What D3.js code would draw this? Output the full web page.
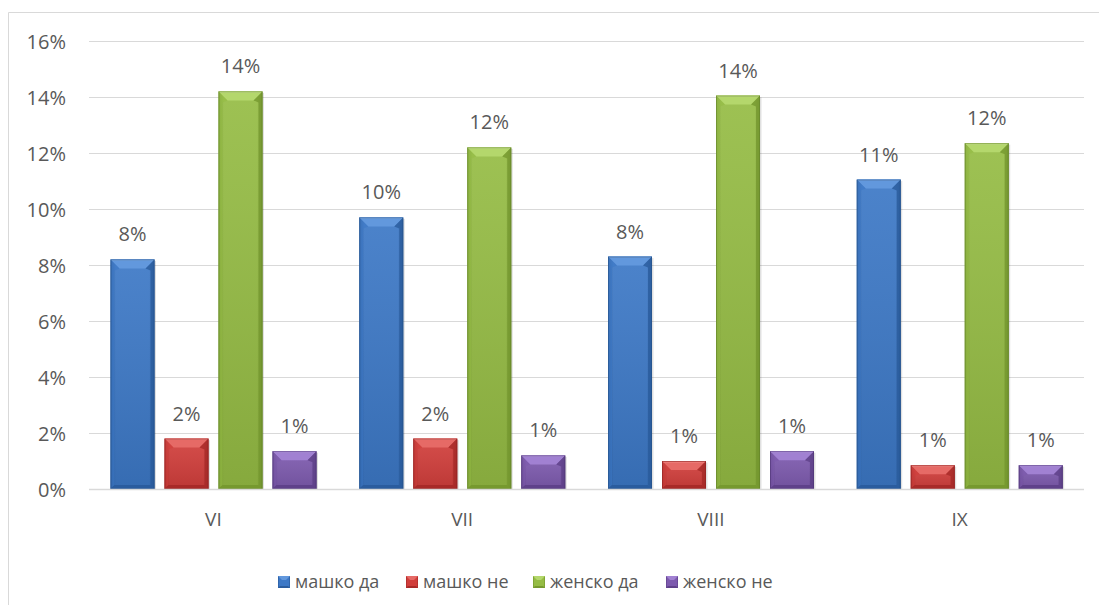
<!DOCTYPE html>
<html>
<head>
<meta charset="utf-8">
<script src="https://cdn.jsdelivr.net/npm/d3@7"></script>
<style>
  html, body { margin: 0; padding: 0; background: #ffffff; }
  svg { display: block; }
  text { font-family: "Open Sans", "DejaVu Sans", sans-serif; fill: #595959; }
</style>
</head>
<body>
<svg id="chart" width="1099" height="605"></svg>
<script>
// Grades (classes) along the x axis
const categories = ["VI", "VII", "VIII", "IX"];
// Series: boys yes / boys no / girls yes / girls no
const seriesNames = ["машко да", "машко не", "женско да", "женско не"];
// Share of respondents in percent, one row per series, ordered as categories
const maleYes   = [8.2, 9.7, 8.3, 11.05];
const maleNo    = [1.8, 1.8, 1.0, 0.85];
const femaleYes = [14.2, 12.2, 14.05, 12.35];
const femaleNo  = [1.35, 1.2, 1.35, 0.85];
const yTicks = [0, 2, 4, 6, 8, 10, 12, 14, 16];

const seriesValues = [maleYes, maleNo, femaleYes, femaleNo];
const palette = [
  { face: "#3c78c6", dark: "#2a5c9e", light: "#7aaae6", top: "#6298dd", edge: "#245289" },
  { face: "#d13e3b", dark: "#a82a28", light: "#f28a85", top: "#e66a66", edge: "#8f2322" },
  { face: "#95bc44", dark: "#76992f", light: "#c8e489", top: "#b4d76c", edge: "#62822a" },
  { face: "#7d5aae", dark: "#5f418a", light: "#b597e0", top: "#a181d2", edge: "#4f3675" }
];

const svg = d3.select("#chart");
const defs = svg.append("defs");

palette.forEach((c, i) => {
  const g = defs.append("linearGradient").attr("id", "face" + i)
    .attr("x1", 0).attr("x2", 1).attr("y1", 0).attr("y2", 0);
  g.append("stop").attr("offset", "0%").attr("stop-color", c.dark);
  g.append("stop").attr("offset", "12%").attr("stop-color", c.face);
  g.append("stop").attr("offset", "50%").attr("stop-color", c.face);
  g.append("stop").attr("offset", "88%").attr("stop-color", c.face);
  g.append("stop").attr("offset", "100%").attr("stop-color", c.dark);
  const v = defs.append("linearGradient").attr("id", "shade" + i)
    .attr("x1", 0).attr("x2", 0).attr("y1", 0).attr("y2", 1);
  v.append("stop").attr("offset", "0%").attr("stop-color", "#ffffff").attr("stop-opacity", 0.08);
  v.append("stop").attr("offset", "100%").attr("stop-color", "#000000").attr("stop-opacity", 0.10);
});

// Outer chart frame
svg.append("path")
  .attr("d", "M8.5,605 L8.5,12.5 L1099,12.5")
  .attr("fill", "none").attr("stroke", "#d9d9d9").attr("stroke-width", 1);

const plot = { left: 89, right: 1084, top: 41, bottom: 489 };

const y = d3.scaleLinear().domain([0, 16]).range([plot.bottom, plot.top]);
const x0 = d3.scaleBand().domain(categories).range([plot.left, plot.right]);
const x1 = d3.scaleBand().domain(d3.range(seriesNames.length))
  .range([21.5, 227.5]).paddingInner(10 / 54).paddingOuter(0);

// Gridlines
svg.append("g").selectAll("line").data(yTicks.filter(t => t > 0)).join("line")
  .attr("x1", plot.left).attr("x2", plot.right)
  .attr("y1", d => Math.round(y(d)) + 0.5).attr("y2", d => Math.round(y(d)) + 0.5)
  .attr("stroke", "#d9d9d9").attr("stroke-width", 1);

// Y axis labels
const yAxis = d3.axisLeft(y).tickValues(yTicks).tickFormat(d => d + "%").tickSize(0).tickPadding(0);
const yg = svg.append("g").attr("transform", `translate(${66},0)`).call(yAxis);
yg.select(".domain").remove();
yg.selectAll("text").style("font-size", "20px").attr("fill", "#595959")
  .style("font-family", "'Open Sans', sans-serif").attr("dy", "0.35em");

// Bars
const rows = categories.map((c, ci) => ({ cat: c, vals: seriesValues.map(s => s[ci]) }));
const groups = svg.append("g").selectAll("g").data(rows).join("g")
  .attr("transform", d => `translate(${x0(d.cat)},0)`);

groups.each(function (row) {
  const g = d3.select(this);
  row.vals.forEach((v, si) => {
    const c = palette[si];
    const bx = x1(si), bw = x1.bandwidth();
    const by = y(v), bh = plot.bottom - by;
    const b = Math.min(9, bh / 2);
    const s = Math.min(4, bh / 2);
    const bar = g.append("g");
    // soft shadow
    bar.append("rect").attr("x", bx + 1.5).attr("y", by + 1.5).attr("width", bw).attr("height", bh - 1.5)
      .attr("fill", "#000").attr("opacity", 0.12);
    bar.append("rect").attr("x", bx).attr("y", by).attr("width", bw).attr("height", bh)
      .attr("fill", `url(#face${si})`);
    bar.append("rect").attr("x", bx).attr("y", by).attr("width", bw).attr("height", bh)
      .attr("fill", `url(#shade${si})`);
    // top bevel facet
    bar.append("path")
      .attr("d", `M${bx},${by} L${bx + bw},${by} L${bx + bw - b},${by + b} L${bx + b},${by + b} Z`)
      .attr("fill", c.top);
    bar.append("path")
      .attr("d", `M${bx + 1},${by + 0.75} L${bx + bw - 1},${by + 0.75}`)
      .attr("stroke", c.light).attr("stroke-width", 1.5);
    // side facets
    bar.append("path")
      .attr("d", `M${bx},${by} L${bx + b},${by + b} L${bx + s},${by + b + 2} L${bx + s},${plot.bottom - s} L${bx},${plot.bottom} Z`)
      .attr("fill", c.face).attr("opacity", 0.6);
    bar.append("path")
      .attr("d", `M${bx + bw},${by} L${bx + bw - b},${by + b} L${bx + bw - s},${by + b + 2} L${bx + bw - s},${plot.bottom - s} L${bx + bw},${plot.bottom} Z`)
      .attr("fill", c.dark).attr("opacity", 0.8);
    // bottom facet
    bar.append("path")
      .attr("d", `M${bx},${plot.bottom} L${bx + s},${plot.bottom - s} L${bx + bw - s},${plot.bottom - s} L${bx + bw},${plot.bottom} Z`)
      .attr("fill", c.dark);
    bar.append("rect").attr("x", bx + 0.5).attr("y", by + 0.5).attr("width", bw - 1).attr("height", bh - 0.5)
      .attr("fill", "none").attr("stroke", c.edge).attr("stroke-width", 1).attr("opacity", 0.6);

    // value label
    g.append("text")
      .attr("x", bx + bw / 2).attr("y", by - 18)
      .attr("text-anchor", "middle")
      .style("font-size", "20px")
      .text(Math.round(v) + "%");
  });
});

// X axis line
svg.append("line")
  .attr("x1", plot.left).attr("x2", plot.right)
  .attr("y1", plot.bottom + 0.5).attr("y2", plot.bottom + 0.5)
  .attr("stroke", "#d9d9d9").attr("stroke-width", 1.5);

// X axis labels
const xAxis = d3.axisBottom(x0).tickSize(0).tickPadding(0);
const xg = svg.append("g").attr("transform", `translate(0,${519})`).call(xAxis);
xg.select(".domain").remove();
xg.selectAll("text").style("font-size", "19px").attr("fill", "#595959")
  .style("font-family", "'Open Sans', sans-serif").attr("dy", "0.35em");

// Legend
const legendX = [278, 406, 533, 666];
const lg = svg.append("g").selectAll("g").data(seriesNames).join("g")
  .attr("transform", (d, i) => `translate(${legendX[i]},${576})`);
lg.each(function (d, i) {
  const g = d3.select(this);
  const c = palette[i];
  g.append("rect").attr("x", 0).attr("y", 0).attr("width", 12).attr("height", 12).attr("fill", `url(#face${i})`);
  g.append("path").attr("d", "M0,0 L12,0 L8,4 L4,4 Z").attr("fill", c.top);
  g.append("path").attr("d", "M0,12 L12,12 L10,10 L2,10 Z").attr("fill", c.dark);
  g.append("text").attr("x", 17).attr("y", 6).attr("dy", "0.35em")
    .style("font-size", "18px").text(d);
});
</script>
</body>
</html>
